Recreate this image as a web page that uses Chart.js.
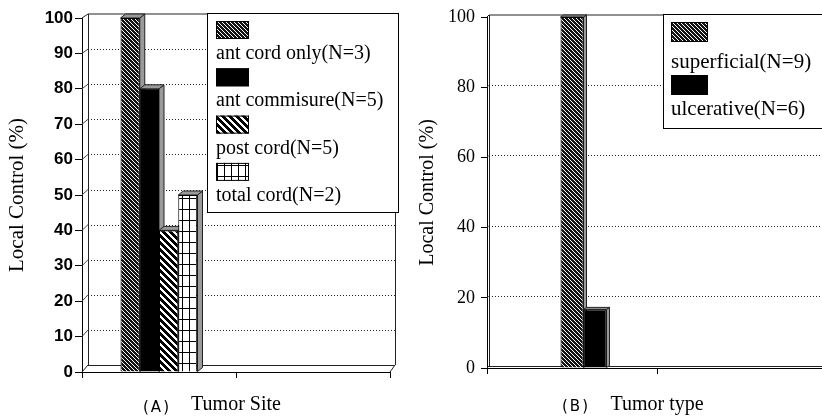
<!DOCTYPE html>
<html>
<head>
<meta charset="utf-8">
<script src="https://cdn.jsdelivr.net/npm/chart.js@4.4.1/dist/chart.umd.min.js"></script>
<style>
html, body { margin: 0; padding: 0; background: #fff; width: 822px; height: 417px; overflow: hidden; position: relative; }
#chartA { position: absolute; left: 0; top: 0; }
#chartB { position: absolute; left: 410px; top: 0; }
</style>
</head>
<body>
<canvas id="chartA" width="405" height="417"></canvas>
<canvas id="chartB" width="422" height="417"></canvas>
<script>
// ---------- DATA ----------
// Panel A: Tumor Site
const siteCategories = ['Site', ''];
const siteSeriesNames = ['ant cord only(N=3)', 'ant commisure(N=5)', 'post cord(N=5)', 'total cord(N=2)'];
const antCordOnly = [100, null];
const antCommisure = [80, null];
const postCord = [40, null];
const totalCord = [50, null];
const siteTicks = [0, 10, 20, 30, 40, 50, 60, 70, 80, 90, 100];

// Panel B: Tumor type
const typeCategories = ['Type', ''];
const typeSeriesNames = ['superficial(N=9)', 'ulcerative(N=6)'];
const superficial = [100, null];
const ulcerative = [16.7, null];
const typeTicks = [0, 20, 40, 60, 80, 100];

// ---------- PATTERNS ----------
function pixelPattern(w, h, fn) {
  const c = document.createElement('canvas');
  c.width = w; c.height = h;
  const g = c.getContext('2d');
  const img = g.createImageData(w, h);
  for (let yy = 0; yy < h; yy++) {
    for (let xx = 0; xx < w; xx++) {
      const v = fn(xx, yy);
      const i = (yy * w + xx) * 4;
      img.data[i] = v; img.data[i + 1] = v; img.data[i + 2] = v; img.data[i + 3] = 255;
    }
  }
  g.putImageData(img, 0, 0);
  return g.createPattern(c, 'repeat');
}
const patDense = pixelPattern(4, 4, (x, y) => (((x - y) % 4 + 4) % 4 === 0 ? 255 : 20));
const patWide = pixelPattern(7, 7, (x, y) => ((((x - y) % 7) + 7) % 7 < 4 ? 0 : 255));
const patGrid = pixelPattern(7, 11, (x, y) => (x === 0 || y === 0 ? 0 : 255));
const patSolid = '#000';

// ---------- PLUGINS ----------
const depth3d = {
  id: 'depth3d',
  beforeDatasetsDraw(chart, args, o) {
    const { ctx, chartArea: a, scales: { x, y } } = chart;
    const w = o.wall;
    const yb = (v) => {
      const p = y.getPixelForValue(v);
      const t = (p - a.top) / (a.bottom - a.top);
      return p + w.dyTop + (w.dyBottom - w.dyTop) * t;
    };
    const xl = a.left + w.dx, xr = a.right + w.dxRight;
    const vMax = y.max, vMin = y.min;
    ctx.save();
    y.ticks.forEach(t => {
      if (t.value === vMax || t.value === vMin) return;
      const p = y.getPixelForValue(t.value);
      const q = yb(t.value);
      ctx.setLineDash([]);
      ctx.strokeStyle = '#444';
      ctx.lineWidth = 1;
      ctx.beginPath(); ctx.moveTo(a.left, p); ctx.lineTo(xl, q); ctx.stroke();
      ctx.setLineDash([1, 2]);
      ctx.strokeStyle = '#222';
      ctx.beginPath(); ctx.moveTo(xl, Math.round(q) + 0.5); ctx.lineTo(xr, Math.round(q) + 0.5); ctx.stroke();
    });
    ctx.setLineDash([]);
    ctx.strokeStyle = '#222';
    ctx.lineWidth = 1;
    const yTop = yb(vMax), yBot = yb(vMin);
    ctx.beginPath();
    ctx.moveTo(xl, yTop); ctx.lineTo(xr, yTop);
    ctx.moveTo(xl + 0.5, yTop); ctx.lineTo(xl + 0.5, yBot);
    ctx.moveTo(xr + 0.5, yTop); ctx.lineTo(xr + 0.5, yBot);
    ctx.moveTo(xl, Math.round(yBot) + 0.5); ctx.lineTo(xr, Math.round(yBot) + 0.5);
    ctx.moveTo(a.left, a.top); ctx.lineTo(xl, yTop);
    ctx.moveTo(a.left, a.bottom); ctx.lineTo(xl, yBot);
    ctx.moveTo(a.right, a.bottom); ctx.lineTo(xr, yBot);
    ctx.stroke();
    const b = o.bar;
    chart.data.datasets.forEach((ds, i) => {
      const meta = chart.getDatasetMeta(i);
      meta.data.forEach((el, j) => {
        if (ds.data[j] === null || ds.data[j] === undefined) return;
        const p = el.getProps(['x', 'y', 'base', 'width'], true);
        const l = p.x - p.width / 2, r = p.x + p.width / 2;
        ctx.fillStyle = '#9a9a9a';
        ctx.strokeStyle = '#222';
        ctx.beginPath();
        ctx.moveTo(r, p.base); ctx.lineTo(r + b.dx, p.base + b.dy);
        ctx.lineTo(r + b.dx, p.y + b.dy); ctx.lineTo(r, p.y); ctx.closePath();
        ctx.fill(); ctx.stroke();
        ctx.beginPath();
        ctx.moveTo(l, p.y); ctx.lineTo(l + b.dx, p.y + b.dy);
        ctx.lineTo(r + b.dx, p.y + b.dy); ctx.lineTo(r, p.y); ctx.closePath();
        ctx.fill(); ctx.stroke();
      });
    });
    ctx.restore();
  }
};

const boxLegend = {
  id: 'boxLegend',
  afterDraw(chart, args, o) {
    const { ctx } = chart;
    ctx.save();
    ctx.fillStyle = '#fff';
    ctx.fillRect(o.box.x, o.box.y, o.box.w, o.box.h);
    ctx.strokeStyle = '#000';
    ctx.lineWidth = 1;
    ctx.strokeRect(o.box.x + 0.5, o.box.y + 0.5, o.box.w, o.box.h);
    const items = chart.data.datasets.filter(d => d.label);
    items.forEach((d, i) => {
      const sy = o.swatch.y + o.swatch.step * i;
      ctx.fillStyle = d.backgroundColor;
      ctx.fillRect(o.swatch.x, sy, o.swatch.w, o.swatch.h);
      ctx.strokeStyle = '#000';
      ctx.strokeRect(o.swatch.x + 0.5, sy + 0.5, o.swatch.w - 1, o.swatch.h - 1);
      ctx.fillStyle = '#000';
      ctx.font = o.font;
      ctx.textBaseline = 'middle';
      ctx.textAlign = 'left';
      ctx.fillText(d.label, o.label.x, o.label.y + o.label.step * i);
    });
    ctx.restore();
  }
};

const panelTag = {
  id: 'panelTag',
  afterDraw(chart, args, o) {
    const { ctx } = chart;
    ctx.save();
    ctx.fillStyle = '#000';
    ctx.font = o.font;
    ctx.textAlign = 'center';
    ctx.textBaseline = 'middle';
    if ('letterSpacing' in ctx) ctx.letterSpacing = '2px';
    ctx.fillText(o.text, o.x, o.y);
    ctx.restore();
  }
};

Chart.defaults.animation = false;
Chart.defaults.color = '#000';

// ---------- PANEL A ----------
new Chart(document.getElementById('chartA'), {
  type: 'bar',
  data: {
    labels: siteCategories,
    datasets: [
      { label: siteSeriesNames[0], data: antCordOnly, backgroundColor: patDense },
      { label: siteSeriesNames[1], data: antCommisure, backgroundColor: patSolid },
      { label: siteSeriesNames[2], data: postCord, backgroundColor: patWide },
      { label: siteSeriesNames[3], data: totalCord, backgroundColor: patGrid }
    ]
  },
  options: {
    responsive: false,
    layout: { padding: { left: 0, top: 18, right: 15, bottom: 0 } },
    datasets: { bar: { categoryPercentage: 0.5, barPercentage: 1.0, borderWidth: 1, borderColor: '#000' } },
    plugins: {
      legend: { display: false },
      tooltip: { enabled: false },
      depth3d: { wall: { dx: 6, dxRight: 5, dyTop: -4, dyBottom: -7 }, bar: { dx: 5, dy: -4 } },
      boxLegend: {
        box: { x: 207, y: 13, w: 191, h: 199 },
        swatch: { x: 216, y: 21, step: 47.3, w: 33, h: 18 },
        label: { x: 216, y: 54, step: 47.2 },
        font: '20px "Liberation Serif"'
      },
      panelTag: { text: '(A)', x: 157, y: 408, font: '15px "DejaVu Sans"' }
    },
    scales: {
      x: {
        afterFit: s => { s.height = 45; },
        ticks: { display: false },
        grid: { drawOnChartArea: false, offset: true, tickLength: 6, color: '#000' },
        border: { display: true, color: '#000' },
        title: { display: true, text: 'Tumor Site', font: { family: 'Liberation Serif', size: 20 }, color: '#000', padding: 0 }
      },
      y: {
        min: 0, max: 100,
        afterFit: s => { s.width = 82; },
        afterBuildTicks: s => { s.ticks = siteTicks.map(v => ({ value: v })); },
        ticks: { font: { family: 'Liberation Sans', weight: 'bold', size: 17 }, color: '#000', padding: 2 },
        grid: { drawOnChartArea: false, tickLength: 7, color: '#000' },
        border: { display: true, color: '#000' },
        title: { display: true, text: 'Local Control (%)', font: { family: 'Liberation Serif', size: 21 }, color: '#000', padding: { top: 5, bottom: 0 } }
      }
    }
  },
  plugins: [depth3d, boxLegend, panelTag]
});

// ---------- PANEL B ----------
new Chart(document.getElementById('chartB'), {
  type: 'bar',
  data: {
    labels: typeCategories,
    datasets: [
      { label: '', data: [null, null], backgroundColor: 'rgba(0,0,0,0)' }, // spacer slot
      { label: typeSeriesNames[0], data: superficial, backgroundColor: patDense },
      { label: typeSeriesNames[1], data: ulcerative, backgroundColor: patSolid }
    ]
  },
  options: {
    responsive: false,
    layout: { padding: { left: 0, top: 17, right: 5, bottom: 0 } },
    datasets: { bar: { categoryPercentage: 0.406, barPercentage: 1.0, borderWidth: 1, borderColor: '#000' } },
    plugins: {
      legend: { display: false },
      tooltip: { enabled: false },
      depth3d: { wall: { dx: 2, dxRight: 2, dyTop: -2, dyBottom: -2 }, bar: { dx: 3, dy: -2 } },
      boxLegend: {
        box: { x: 253, y: 14, w: 180, h: 114 },
        swatch: { x: 261, y: 22, step: 53, w: 37, h: 20 },
        label: { x: 261, y: 62.5, step: 46.5 },
        font: '21px "Liberation Serif"'
      },
      panelTag: { text: '(B)', x: 166, y: 407, font: '15px "DejaVu Sans"' }
    },
    scales: {
      x: {
        afterFit: s => { s.height = 49; },
        ticks: { display: false },
        grid: { drawOnChartArea: false, offset: true, tickLength: 6, color: '#000' },
        border: { display: true, color: '#000' },
        title: { display: true, text: 'Tumor type', font: { family: 'Liberation Serif', size: 20 }, color: '#000', padding: 0 }
      },
      y: {
        min: 0, max: 100,
        afterFit: s => { s.width = 77; },
        afterBuildTicks: s => { s.ticks = typeTicks.map(v => ({ value: v })); },
        ticks: { font: { family: 'Liberation Serif', size: 18 }, color: '#000', padding: 6 },
        grid: { drawOnChartArea: false, tickLength: 6, color: '#000' },
        border: { display: true, color: '#000' },
        title: { display: true, text: 'Local Control (%)', font: { family: 'Liberation Serif', size: 20 }, color: '#000', padding: { top: 6, bottom: 0 } }
      }
    }
  },
  plugins: [depth3d, boxLegend, panelTag]
});
</script>
</body>
</html>
